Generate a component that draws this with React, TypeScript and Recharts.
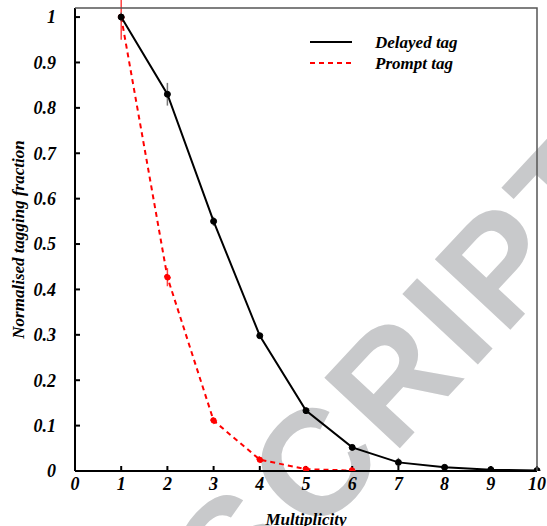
import { LineChart, Line, XAxis, YAxis, ErrorBar, Legend } from 'recharts';

const multiplicity = [1, 2, 3, 4, 5, 6, 7, 8, 9, 10];
const delayedTag = [1, 0.83, 0.55, 0.298, 0.133, 0.052, 0.019, 0.008, 0.003, 0.001];
const delayedErr = [0.01, 0.025, 0.01, 0.005, 0.004, 0.004, 0.01, 0.003, 0.003, 0.001];
const promptTag = [1, 0.427, 0.111, 0.025, 0.004, 0.001];
const promptErr = [0.05, 0.02, 0.006, 0.003, 0.002, 0.001];
const xTicks = [0, 1, 2, 3, 4, 5, 6, 7, 8, 9, 10];
const yTicks = [0, 0.1, 0.2, 0.3, 0.4, 0.5, 0.6, 0.7, 0.8, 0.9, 1];

const data = multiplicity.map((m, i) => ({
  m,
  delayed: delayedTag[i],
  delayedErr: delayedErr[i],
  prompt: promptTag[i],
  promptErr: promptErr[i],
}));

const W = 547;
const H = 526;
const margin = { top: 8, right: 10, bottom: 0, left: 0 };
const yAxisWidth = 75;
const xAxisHeight = 55;

const serif = "'Liberation Serif', 'Times New Roman', serif";
const tickStyle = { fontFamily: serif, fontWeight: 700, fontStyle: 'italic', fontSize: 18, fill: '#000' };
const labelStyle = { ...tickStyle, fontSize: 17 };

function LegendBox() {
  const items = [
    { name: 'Delayed tag', color: '#000', dash: undefined },
    { name: 'Prompt tag', color: '#ff0000', dash: '5 4' },
  ];
  return (
    <svg width={200} height={50}>
      {items.map((it, i) => (
        <g key={it.name} transform={`translate(0 ${10 + i * 21})`}>
          <line x1={5} x2={47} y1={0} y2={0} stroke={it.color} strokeWidth={2} strokeDasharray={it.dash} />
          <text x={70} y={6} style={labelStyle as any}>{it.name}</text>
        </g>
      ))}
    </svg>
  );
}

export default function App() {
  // plot box edges, for the top/right frame
  const left = margin.left + yAxisWidth;
  const right = W - margin.right;
  const top = margin.top;
  const bottom = H - margin.bottom - xAxisHeight;
  return (
    <div style={{ position: 'absolute', left: 0, top: 0, width: W, height: H, background: '#fff' }}>
      <svg width={W} height={H} style={{ position: 'absolute', left: 0, top: 0 }}>
        <g transform="translate(315 539) rotate(-47)" fontFamily="'Liberation Sans', Arial, sans-serif" fontWeight="bold" fontSize={150} fill="#c8c9cb">
          <text x={0} letterSpacing={6}>CRIPT</text>
          <text x={-6} textAnchor="end" letterSpacing={6}>ACCEPTED MANUS</text>
        </g>
      </svg>
      <div style={{ position: 'absolute', left: 0, top: 0 }}>
        <LineChart width={W} height={H} data={data} margin={margin}>
          <XAxis
            dataKey="m"
            type="number"
            domain={[0, 10]}
            ticks={xTicks}
            interval={0}
            height={xAxisHeight}
            tickSize={-5}
            tickMargin={11}
            stroke="#000"
            strokeWidth={2}
            tick={tickStyle}
            label={{ value: 'Multiplicity', position: 'insideBottom', offset: 1, style: labelStyle }}
          />
          <YAxis
            type="number"
            domain={[0, 1.02]}
            allowDataOverflow
            ticks={yTicks}
            interval={0}
            width={yAxisWidth}
            tickSize={-5}
            tickMargin={24}
            stroke="#000"
            strokeWidth={2}
            tick={tickStyle}
            tickFormatter={(v: number) => String(Number(v.toFixed(1)))}
            label={{
              content: (p: any) => {
                const vb = p.viewBox || {};
                const cx = (vb.x || 0) + 18;
                const cy = (vb.y || 0) + (vb.height || 0) / 2;
                return (
                  <text x={cx} y={cy} transform={`rotate(-90 ${cx} ${cy})`} textAnchor="middle" dominantBaseline="central" style={labelStyle as any}>
                    Normalised tagging fraction
                  </text>
                );
              },
            }}
          />
          <Legend
            layout="vertical"
            verticalAlign="middle"
            align="center"
            wrapperStyle={{ left: 305, top: 32, width: 200, height: 50 }}
            content={() => <LegendBox />}
          />
          <Line
            dataKey="prompt"
            stroke="#ff0000"
            strokeWidth={2}
            strokeDasharray="5 4"
            dot={{ r: 3, fill: '#ff0000', stroke: '#ff0000', strokeWidth: 1 }}
            isAnimationActive={false}
            legendType="none"
          >
            <ErrorBar dataKey="promptErr" width={0} stroke="#ff4040" strokeWidth={1.5} direction="y" />
          </Line>
          <Line
            dataKey="delayed"
            stroke="#000"
            strokeWidth={2}
            dot={{ r: 3, fill: '#000', stroke: '#000', strokeWidth: 1 }}
            isAnimationActive={false}
            legendType="none"
          >
            <ErrorBar dataKey="delayedErr" width={0} stroke="#777" strokeWidth={1.5} direction="y" />
          </Line>
        </LineChart>
      </div>
      <svg width={W} height={H} style={{ position: 'absolute', left: 0, top: 0, pointerEvents: 'none' }}>
        <polyline points={`${left},${top} ${right},${top} ${right},${bottom}`} fill="none" stroke="#555" strokeWidth={1.5} />
      </svg>
    </div>
  );
}
